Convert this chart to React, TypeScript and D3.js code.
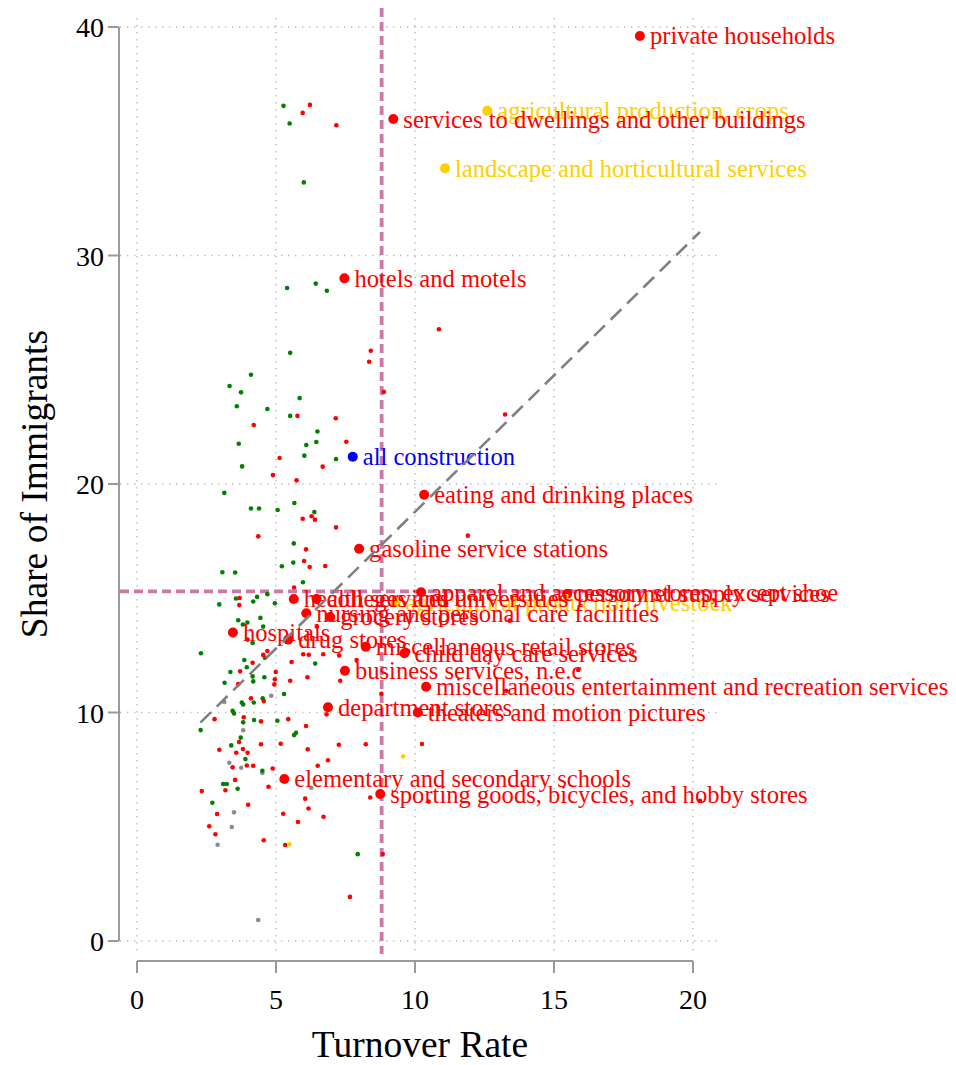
import React, { useEffect, useRef } from "react";
import * as d3 from "d3";

// ---------- data ----------
const xTicks = [0, 5, 10, 15, 20];
const yTicks = [0, 10, 20, 30, 40];

const meanTurnover = 8.8;
const meanShare = 15.3;

// fitted line
const fitIntercept = 6.83;
const fitSlope = 1.195;
const fitRange = [2.28, 20.25];

const redPts: [number, number][] = [
  [6.22, 36.59], [5.96, 36.24], [7.17, 35.7], [10.86, 26.77], [8.41, 25.83], [8.35, 25.35],
  [8.88, 24.03], [5.77, 22.98], [7.15, 22.88], [4.2, 22.58], [7.53, 21.85], [5.13, 21.14],
  [6.68, 20.76], [4.89, 20.39], [5.74, 20.16], [6.28, 18.59], [5.96, 18.48], [6.4, 18.44],
  [7.16, 18.1], [4.36, 17.71], [6.08, 17.14], [6.01, 16.63], [6.21, 16.37], [6.77, 16.41],
  [5.65, 15.47], [3.69, 15.01], [3.68, 14.7], [6.47, 13.76], [3.98, 13.19], [4.69, 12.69],
  [4.54, 12.52], [5.98, 12.55], [6.18, 12.53], [6.7, 12.55], [7.27, 12.5], [4.16, 12.18],
  [5.56, 12.21], [3.71, 11.8], [4.99, 11.77], [7.9, 12.3], [4.96, 11.45], [5.51, 11.39],
  [6.13, 11.54], [7.31, 11.39], [3.64, 11.24], [4.94, 11.23], [4.1, 10.62], [4.56, 10.5],
  [2.79, 9.71], [3.84, 9.79], [4.46, 9.61], [5.44, 9.71], [6.08, 9.41], [6.82, 9.92],
  [8.79, 10.82], [3.67, 8.71], [4.46, 8.61], [5.17, 8.63], [7.26, 8.59], [8.23, 8.61],
  [10.25, 8.62], [2.96, 8.37], [3.81, 8.4], [3.57, 8.24], [3.98, 8.24], [6.14, 8.39],
  [6.87, 7.91], [3.44, 7.6], [3.95, 7.68], [4.18, 7.67], [4.88, 7.55], [6.5, 7.67],
  [3.53, 7.05], [3.18, 6.6], [2.33, 6.56], [4.73, 6.75], [6.05, 6.23], [8.39, 6.28],
  [10.49, 6.1], [4.0, 5.96], [6.17, 5.8], [2.88, 5.56], [5.26, 5.57], [6.71, 5.44],
  [5.79, 5.21], [2.6, 5.02], [2.82, 4.67], [4.56, 4.41], [5.33, 4.2], [8.84, 3.81],
  [7.66, 1.93], [11.9, 17.74], [13.24, 23.04], [13.41, 14.02], [15.87, 11.86], [13.28, 10.95],
  [20.25, 6.14],
];

const greenPts: [number, number][] = [
  [5.27, 36.55], [5.49, 35.78], [6.0, 33.2], [5.4, 28.58], [6.43, 28.77], [6.83, 28.46],
  [5.51, 25.74], [4.1, 24.78], [3.33, 24.29], [3.74, 24.01], [5.85, 23.76], [3.59, 23.4],
  [4.69, 23.28], [5.51, 22.98], [6.49, 22.3], [6.45, 21.84], [6.09, 21.71], [3.66, 21.76],
  [6.02, 21.24], [7.16, 21.09], [3.78, 20.77], [3.14, 19.61], [4.1, 18.93], [4.39, 18.93],
  [5.06, 18.86], [5.66, 19.17], [6.38, 18.77], [5.64, 17.4], [5.62, 16.56], [5.21, 16.4],
  [3.07, 16.14], [3.53, 16.13], [5.97, 15.7], [3.56, 14.99], [2.96, 14.73], [4.18, 14.86],
  [4.32, 15.06], [4.69, 15.18], [4.96, 14.78], [3.64, 14.04], [3.81, 13.85], [3.97, 13.94],
  [4.44, 14.14], [4.54, 13.76], [4.16, 13.04], [2.3, 12.59], [4.6, 12.4], [6.41, 12.14],
  [3.86, 12.3], [3.95, 11.98], [3.36, 11.77], [4.16, 11.58], [4.58, 11.54], [3.15, 11.3],
  [4.18, 11.36], [4.52, 10.62], [5.29, 10.81], [3.77, 10.44], [3.82, 10.35], [4.2, 10.44],
  [3.44, 10.07], [3.49, 9.96], [3.82, 9.57], [4.21, 9.67], [5.05, 9.64], [2.29, 9.23],
  [5.72, 9.11], [5.65, 9.01], [3.73, 8.9], [3.39, 8.56], [3.9, 7.96], [4.51, 7.45],
  [3.1, 6.87], [3.23, 6.87], [3.62, 6.66], [2.71, 6.05], [7.94, 3.8],
];

const grayPts: [number, number][] = [
  [4.83, 10.73], [3.14, 10.46], [3.82, 9.22], [3.32, 7.8], [3.75, 7.58], [4.51, 7.35],
  [6.27, 6.71], [3.49, 5.63], [3.41, 4.99], [2.9, 4.21], [4.36, 0.92],
];

const yellowPts: [number, number][] = [
  [9.57, 8.08], [5.48, 4.23],
];

const labelNames = [
  "private households",
  "agricultural production, crops",
  "services to dwellings and other buildings",
  "landscape and horticultural services",
  "hotels and motels",
  "all construction",
  "eating and drinking places",
  "gasoline service stations",
  "agricultural production, livestock",
  "apparel and accessory stores, except shoe",
  "personnel supply services",
  "health services",
  "colleges and universities",
  "nursing and personal care facilities",
  "grocery stores",
  "hospitals",
  "drug stores",
  "miscellaneous retail stores",
  "child day care services",
  "business services, n.e.c",
  "miscellaneous entertainment and recreation services",
  "department stores",
  "theaters and motion pictures",
  "elementary and secondary schools",
  "sporting goods, bicycles, and hobby stores",
];
const labelX = [
  18.09, 12.6, 9.22, 11.08, 7.46, 7.76, 10.33, 7.99, 9.3, 10.22, 15.47, 5.64, 6.46,
  6.09, 6.95, 3.45, 5.44, 8.23, 9.62, 7.48, 10.4, 6.87, 10.1, 5.3, 8.75,
];
const labelY = [
  39.61, 36.34, 35.97, 33.82, 29.0, 21.19, 19.53, 17.17, 14.8, 15.26, 15.19, 14.97, 14.97,
  14.34, 14.18, 13.5, 13.19, 12.88, 12.59, 11.83, 11.13, 10.23, 10.0, 7.09, 6.43,
];
const labelGroup = [
  "red", "yellow", "red", "yellow", "red", "blue", "red", "red", "yellow", "red", "red", "red", "red",
  "red", "red", "red", "red", "red", "red", "red", "red", "red", "red", "red", "red",
];

const colorMap: Record<string, string> = {
  red: "#FF0000",
  green: "#008000",
  gray: "#8C8C8C",
  yellow: "#FFD000",
  blue: "#0000FF",
};

const FONT = "'Liberation Serif', 'Times New Roman', Times, serif";

export default function App() {
  const ref = useRef<SVGSVGElement | null>(null);

  useEffect(() => {
    document.body.style.margin = "0";
    const svg = d3.select(ref.current);
    svg.selectAll("*").remove();

    const x = d3.scaleLinear().domain([0, 20]).range([137, 693]);
    const y = d3.scaleLinear().domain([0, 40]).range([941, 27]);

    const panel = { left: 120, right: 721, top: 10, bottom: 954 };

    // grid
    const grid = svg.append("g");
    yTicks.forEach((t) => {
      grid.append("line")
        .attr("x1", panel.left).attr("x2", panel.right)
        .attr("y1", y(t)).attr("y2", y(t))
        .attr("stroke", "#bdbdbd").attr("stroke-width", 1.4)
        .attr("stroke-dasharray", "1.4,5.6");
    });
    xTicks.forEach((t) => {
      grid.append("line")
        .attr("x1", x(t)).attr("x2", x(t))
        .attr("y1", panel.top + 8).attr("y2", panel.bottom)
        .attr("stroke", "#bdbdbd").attr("stroke-width", 1.4)
        .attr("stroke-dasharray", "1.4,5.6");
    });

    // mean lines
    const pink = "#CC79A7";
    svg.append("line")
      .attr("x1", x(meanTurnover)).attr("x2", x(meanTurnover))
      .attr("y1", panel.top - 2).attr("y2", panel.bottom)
      .attr("stroke", pink).attr("stroke-width", 3.8).attr("stroke-dasharray", "9,5");
    svg.append("line")
      .attr("x1", panel.left).attr("x2", panel.right)
      .attr("y1", y(meanShare)).attr("y2", y(meanShare))
      .attr("stroke", pink).attr("stroke-width", 3.8).attr("stroke-dasharray", "9,5");

    // small points
    const groups: [string, [number, number][]][] = [
      ["gray", grayPts], ["green", greenPts], ["red", redPts], ["yellow", yellowPts],
    ];
    groups.forEach(([c, pts]) => {
      svg.append("g").selectAll("circle").data(pts).join("circle")
        .attr("cx", (d) => x(d[0])).attr("cy", (d) => y(d[1]))
        .attr("r", 2.3).attr("fill", colorMap[c]);
    });

    // labelled points
    const lab = labelNames.map((n, i) => ({ n, x: labelX[i], y: labelY[i], c: colorMap[labelGroup[i]] }));
    svg.append("g").selectAll("circle").data(lab).join("circle")
      .attr("cx", (d) => x(d.x)).attr("cy", (d) => y(d.y))
      .attr("r", 5).attr("fill", (d) => d.c);
    svg.append("g").selectAll("text").data(lab).join("text")
      .attr("x", (d) => x(d.x) + 10).attr("y", (d) => y(d.y) + 8.5)
      .attr("fill", (d) => d.c)
      .attr("font-family", FONT).attr("font-size", 24.6)
      .text((d) => d.n);

    // fit line
    svg.append("line")
      .attr("x1", x(fitRange[0])).attr("y1", y(fitIntercept + fitSlope * fitRange[0]))
      .attr("x2", x(fitRange[1])).attr("y2", y(fitIntercept + fitSlope * fitRange[1]))
      .attr("stroke", "#808080").attr("stroke-width", 2.6).attr("stroke-dasharray", "15,8");

    // axes
    const axisCol = "#9a9a9a";
    const ax = svg.append("g");
    ax.append("line").attr("x1", 119).attr("x2", 119).attr("y1", y(40)).attr("y2", y(0))
      .attr("stroke", axisCol).attr("stroke-width", 2);
    yTicks.forEach((t) => {
      ax.append("line").attr("x1", 108).attr("x2", 119).attr("y1", y(t)).attr("y2", y(t))
        .attr("stroke", axisCol).attr("stroke-width", 2);
      ax.append("text").attr("x", 104).attr("y", y(t) + 10).attr("text-anchor", "end")
        .attr("font-family", FONT).attr("font-size", 28).attr("fill", "#000").text(String(t));
    });
    ax.append("line").attr("x1", x(0)).attr("x2", x(20)).attr("y1", 961).attr("y2", 961)
      .attr("stroke", axisCol).attr("stroke-width", 2);
    xTicks.forEach((t) => {
      ax.append("line").attr("x1", x(t)).attr("x2", x(t)).attr("y1", 961).attr("y2", 973)
        .attr("stroke", axisCol).attr("stroke-width", 2);
      ax.append("text").attr("x", x(t)).attr("y", 1009).attr("text-anchor", "middle")
        .attr("font-family", FONT).attr("font-size", 28).attr("fill", "#000").text(String(t));
    });

    // titles
    svg.append("text").attr("x", 420).attr("y", 1057).attr("text-anchor", "middle")
      .attr("font-family", FONT).attr("font-size", 37.5).attr("fill", "#000").text("Turnover Rate");
    svg.append("text")
      .attr("transform", `translate(47,${(y(0) + y(40)) / 2}) rotate(-90)`)
      .attr("text-anchor", "middle")
      .attr("font-family", FONT).attr("font-size", 37.5).attr("fill", "#000").text("Share of Immigrants");
  }, []);

  return (
    <svg ref={ref} width={956} height={1065} style={{ display: "block", background: "#fff" }} />
  );
}
